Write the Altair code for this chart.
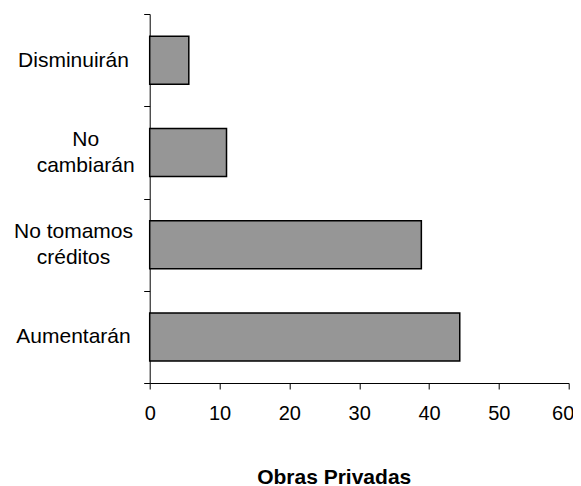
import altair as alt
import pandas as pd

# Data
categories = ["Disminuirán", "No\ncambiarán", "No tomamos\ncréditos", "Aumentarán"]
values = [5.6, 11.0, 38.9, 44.4]
x_ticks = [0, 10, 20, 30, 40, 50, 60]
x_title = "Obras Privadas"

df = pd.DataFrame({"categoria": categories, "valor": values})

FONT = "Liberation Sans, Arial, sans-serif"

chart = (
    alt.Chart(df)
    .mark_bar(fill="#969696", stroke="#000000", strokeWidth=1.5, size=48)
    .encode(
        x=alt.X(
            "valor:Q",
            scale=alt.Scale(domain=[0, 60], nice=False, zero=True),
            axis=alt.Axis(
                values=x_ticks,
                title=x_title,
                grid=False,
                domainColor="#000000",
                tickColor="#000000",
                tickSize=6,
                labelFontSize=20,
                labelColor="#000000",
                labelFont=FONT,
                labelPadding=14,
                labelFlush=False,
                labelOverlap=False,
                labelOffset={"condition": {"test": "datum.value == 60", "value": -6}, "value": 0},
                titleFont=FONT,
                titleFontSize=21,
                titleFontWeight="bold",
                titleColor="#000000",
                titleX=184,
                titleY=100,
                titleAlign="center",
                titleBaseline="alphabetic",
            ),
        ),
        y=alt.Y(
            "categoria:N",
            sort=categories,
            scale=alt.Scale(paddingInner=0, paddingOuter=0),
            axis=alt.Axis(
                title=None,
                tickBand="extent",
                tickSize=6,
                domainColor="#000000",
                tickColor="#000000",
                labelAlign="center",
                labelBaseline="middle",
                labelPadding={
                    "condition": {"test": "test(/cambiar/, datum.value)", "value": 58.5},
                    "value": 70.7,
                },
                labelOffset={
                    "condition": {"test": "test(/\\n/, datum.value)", "value": -13},
                    "value": 0,
                },
                labelFontSize=21,
                labelLineHeight=26,
                labelColor="#000000",
                labelFont=FONT,
                labelLimit=0,
                labelExpr="split(datum.label, '\\n')",
            ),
        ),
    )
    .properties(
        width=419,
        height=369,
        autosize=alt.AutoSizeParams(type="none"),
        padding={"left": 141.7, "top": 6, "right": 4.3, "bottom": 103},
        background="#ffffff",
    )
    .configure_view(stroke=None)
)

chart.save("out.html", embed_options={"renderer": "svg", "actions": False})
